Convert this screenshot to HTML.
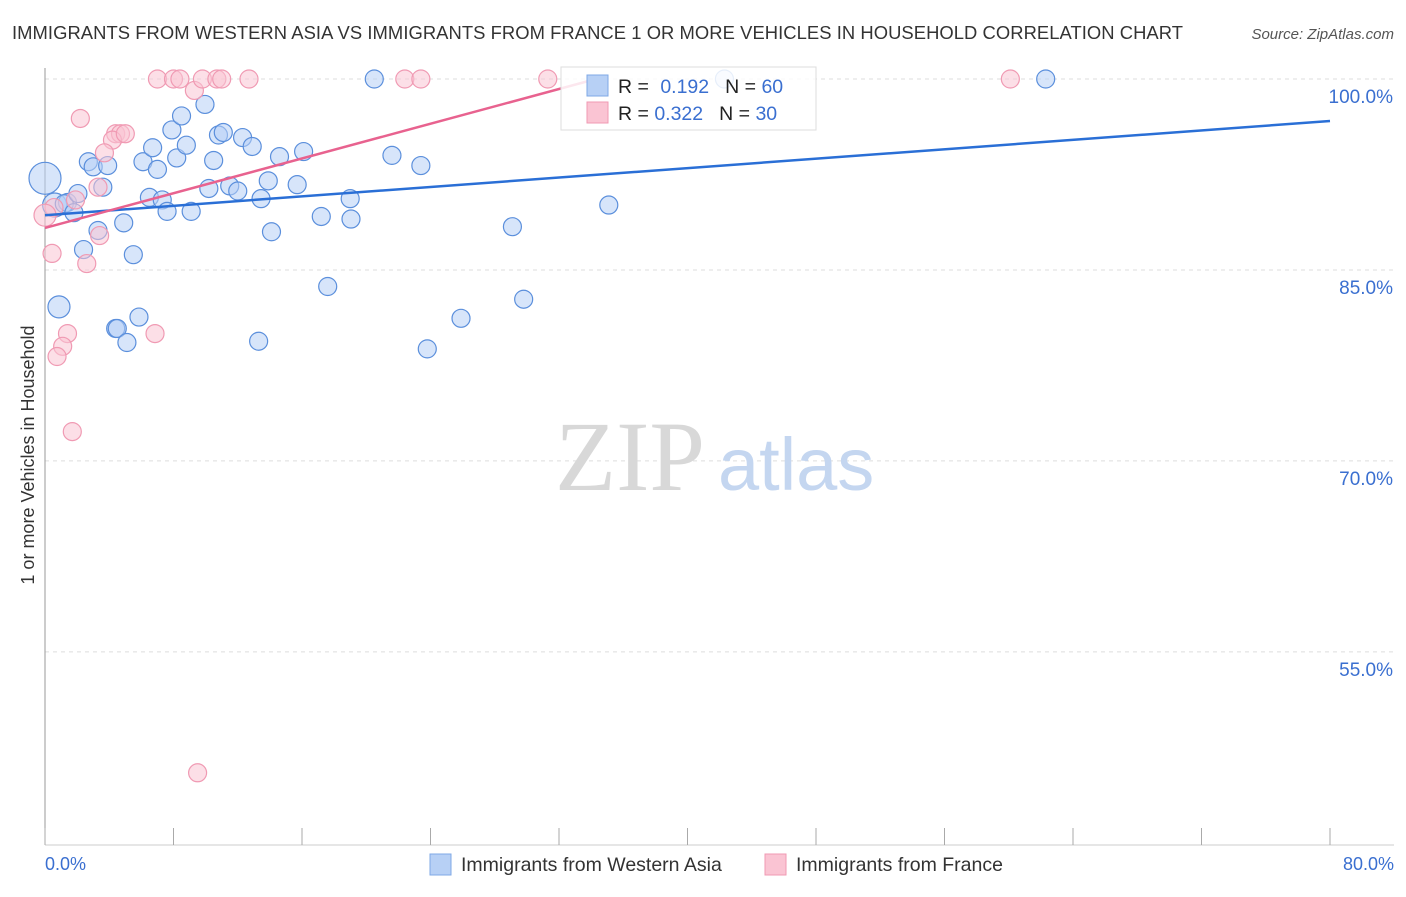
<!DOCTYPE html>
<html><head><meta charset="utf-8"><style>
body{margin:0;background:#fff;font-family:"Liberation Sans",sans-serif}
</style></head><body>
<svg width="1406" height="892" xmlns="http://www.w3.org/2000/svg" font-family="Liberation Sans, sans-serif">
<text x="12" y="39" font-size="18.4" fill="#333" textLength="1171">IMMIGRANTS FROM WESTERN ASIA VS IMMIGRANTS FROM FRANCE 1 OR MORE VEHICLES IN HOUSEHOLD CORRELATION CHART</text>
<text x="1394" y="39" font-size="15" fill="#555" font-style="italic" text-anchor="end">Source: ZipAtlas.com</text>
<g id="grid"></g>
<line x1="45" y1="68" x2="45" y2="845" stroke="#999"/>
<line x1="45" y1="845" x2="1394" y2="845" stroke="#ccc"/>
<g id="xticks"></g>
<text x="555" y="490" font-size="100" fill="#d8d8d8" font-family="Liberation Serif, serif">ZIP</text>
<text x="718" y="490" font-size="74" fill="#c4d6f0">atlas</text>
<text transform="translate(34,455) rotate(-90)" font-size="18" fill="#333" text-anchor="middle">1 or more Vehicles in Household</text>
<text x="45" y="870" font-size="18" fill="#3a6fd0">0.0%</text>
<text x="1394" y="870" font-size="18" fill="#3a6fd0" text-anchor="end">80.0%</text>
<g id="pts"></g>
<g id="lines"></g>
<g>
<rect x="561" y="67" width="255" height="63" fill="#fff" fill-opacity="0.85" stroke="#ddd"/>
<rect x="587" y="75" width="21" height="21" fill="#b7d0f5" stroke="#7fa8e6"/>
<rect x="587" y="102" width="21" height="21" fill="#fac4d3" stroke="#f09ab3"/>
<text x="618" y="93" font-size="19.5" fill="#222">R = <tspan fill="#3a6fd0" dx="6">0.192</tspan><tspan dx="16" fill="#222">N = </tspan><tspan fill="#3a6fd0">60</tspan></text>
<text x="618" y="120" font-size="19.5" fill="#222">R = <tspan fill="#3a6fd0">0.322</tspan><tspan dx="16" fill="#222">N = </tspan><tspan fill="#3a6fd0">30</tspan></text>
</g>
<g>
<rect x="430" y="854" width="21" height="21" fill="#b7d0f5" stroke="#7fa8e6"/>
<text x="461" y="871" font-size="19.5" fill="#333">Immigrants from Western Asia</text>
<rect x="765" y="854" width="21" height="21" fill="#fac4d3" stroke="#f09ab3"/>
<text x="796" y="871" font-size="19.5" fill="#333">Immigrants from France</text>
</g>
</svg>
<script>
const yTicks=[100,85,70,55];
const yTickLabels=["100.0%","85.0%","70.0%","55.0%"];
const xTicks=[0,8,16,24,32,40,48,56,64,72,80];
const blueX=[0,0.87,0.6,1.4,1.2,2.05,1.8,2.4,2.7,3.0,3.3,3.6,3.9,4.4,4.5,4.9,5.1,5.5,5.85,6.1,6.5,6.7,7.0,7.3,7.6,7.9,8.2,8.5,8.8,9.1,9.96,10.2,10.5,10.8,11.1,11.5,12.0,12.3,12.9,13.3,13.45,13.9,14.1,14.6,15.7,16.1,17.2,17.6,19.0,19.05,20.5,21.6,23.4,23.8,25.9,29.1,29.8,35.1,42.3,62.3];
const blueY=[92.2,82.1,90.1,90.3,90.2,91.0,89.5,86.6,93.5,93.1,88.1,91.5,93.2,80.4,80.4,88.7,79.3,86.2,81.3,93.5,90.7,94.6,92.9,90.5,89.6,96.0,93.8,97.1,94.8,89.6,98.0,91.4,93.6,95.6,95.8,91.6,91.2,95.4,94.7,79.4,90.6,92.0,88.0,93.9,91.7,94.3,89.2,83.7,90.6,89.0,100,94.0,93.2,78.8,81.2,88.4,82.7,90.1,100,100];
const blueR=[16,11,12,9,9,9,9,9,9,9,9,9,9,9,9,9,9,9,9,9,9,9,9,9,9,9,9,9,9,9,9,9,9,9,9,9,9,9,9,9,9,9,9,9,9,9,9,9,9,9,9,9,9,9,9,9,9,9,9,9];
const pinkX=[7.0,8.0,8.4,9.3,9.8,10.7,11.0,12.7,22.4,23.4,31.3,60.1,2.2,4.4,4.7,4.2,5.0,3.7,3.3,0.56,1.9,3.4,0.44,2.6,1.4,1.1,0.75,6.85,1.7,9.5,0];
const pinkY=[100,100,100,99.1,100,100,100,100,100,100,100,100,96.9,95.7,95.7,95.2,95.7,94.2,91.5,89.9,90.5,87.7,86.3,85.5,80.0,79.0,78.2,80.0,72.3,45.5,89.3];
const blueTrend=[[0,89.3],[80,96.7]];
const pinkTrend=[[0,88.3],[34.3,100]];
const X=v=>45+v*1285/80, Y=v=>79+(100-v)*12.73;
const NS="http://www.w3.org/2000/svg";
function mk(t,a,p){const e=document.createElementNS(NS,t);for(const k in a)e.setAttribute(k,a[k]);document.getElementById(p).appendChild(e);return e;}
yTicks.forEach((t,i)=>{
 const l=mk('line',{x1:45,x2:1394,y1:Y(t),y2:Y(t),stroke:'#ddd','stroke-dasharray':'4,4'},'grid');
 
 
 const tx=mk('text',{x:1393,y:Y(t)+24,'font-size':19,fill:'#3a6fd0','text-anchor':'end'},'grid');
 tx.textContent=yTickLabels[i];
 
 
});
xTicks.forEach(t=>{
 const l=mk('line',{x1:X(t),x2:X(t),y1:828,y2:845,stroke:'#aaa'},'xticks');
 
 
});
blueX.forEach((x,i)=>{
 const c=mk('circle',{cx:X(x),cy:Y(blueY[i]),r:blueR[i],fill:'#b7d0f5','fill-opacity':0.55,stroke:'#5b8fdc','stroke-width':1.2},'pts');
 
 
});
pinkX.forEach((x,i)=>{
 const c=mk('circle',{cx:X(x),cy:Y(pinkY[i]),r:(i==30?11:9),fill:'#fac4d3','fill-opacity':0.55,stroke:'#f09ab3','stroke-width':1.2},'pts');
 
 
});
const bl=mk('line',{x1:X(blueTrend[0][0]),y1:Y(blueTrend[0][1]),x2:X(blueTrend[1][0]),y2:Y(blueTrend[1][1]),stroke:'#2a6fd6','stroke-width':2.5},'lines');


const pl=mk('line',{x1:X(pinkTrend[0][0]),y1:Y(pinkTrend[0][1]),x2:X(pinkTrend[1][0]),y2:Y(pinkTrend[1][1]),stroke:'#e8628f','stroke-width':2.5},'lines');


</script>
</body></html>
